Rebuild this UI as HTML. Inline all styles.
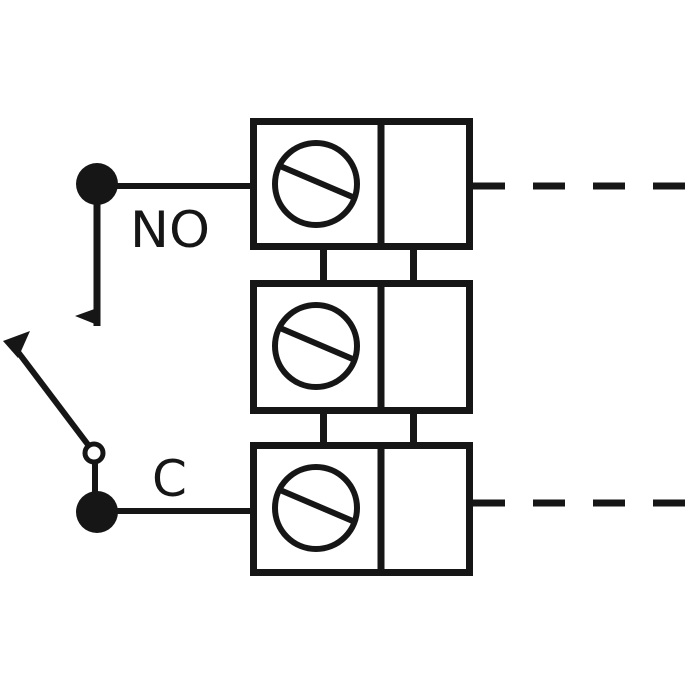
<!DOCTYPE html>
<html><head><style>body{margin:0;background:#fff}svg{display:block}</style></head>
<body>
<svg width="700" height="700" viewBox="0 0 700 700" xmlns="http://www.w3.org/2000/svg">
<g fill="none" stroke="#161616" stroke-width="7">
<rect x="253.5" y="121.5" width="216" height="125"/>
<line x1="381" y1="121" x2="381" y2="247"/>
<rect x="253.5" y="283.5" width="216" height="127"/>
<line x1="381" y1="283" x2="381" y2="411"/>
<rect x="253.5" y="445.5" width="216" height="127"/>
<line x1="381" y1="445" x2="381" y2="573"/>
<line x1="323.5" y1="246" x2="323.5" y2="284"/>
<line x1="413.5" y1="246" x2="413.5" y2="284"/>
<line x1="323.5" y1="410" x2="323.5" y2="446"/>
<line x1="413.5" y1="410" x2="413.5" y2="446"/>
<line x1="473" y1="186" x2="690" y2="186" stroke-dasharray="32 28"/>
<line x1="473" y1="503" x2="690" y2="503" stroke-dasharray="32 28"/>
</g>
<g fill="none" stroke="#161616" stroke-width="6">
<circle cx="316" cy="184" r="41"/>
<line x1="280" y1="166" x2="355" y2="198"/>
<circle cx="316" cy="346" r="41"/>
<line x1="280" y1="328" x2="355" y2="360"/>
<circle cx="316" cy="508" r="41"/>
<line x1="280" y1="490" x2="355" y2="522"/>
<line x1="97" y1="186" x2="252" y2="186"/>
<line x1="97" y1="184" x2="97" y2="326" stroke-width="7"/>
<line x1="97" y1="511" x2="252" y2="511"/>
<line x1="95" y1="460" x2="95" y2="512"/>
<line x1="89" y1="446" x2="18" y2="352"/>
<circle cx="94" cy="453" r="9" stroke-width="5"/>
</g>
<g fill="#161616">
<circle cx="97" cy="184" r="21"/>
<circle cx="97" cy="512" r="21"/>
<polygon points="75,316 100,307 100,326"/>
<polygon points="3,341 30,331 18,358"/>
</g>
<g font-family="DejaVu Sans, sans-serif" font-size="50" fill="#161616">
<text x="130" y="247" textLength="80" lengthAdjust="spacingAndGlyphs">NO</text>
<text x="152" y="496">C</text>
</g>
</svg>
</body></html>
